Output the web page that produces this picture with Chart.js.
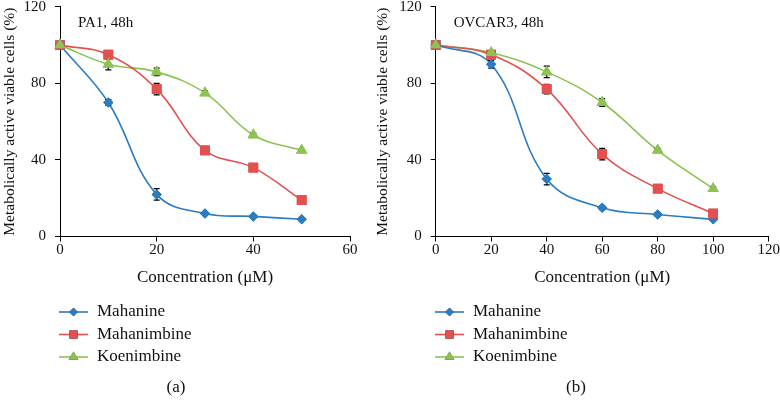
<!DOCTYPE html>
<html>
<head>
<meta charset="utf-8">
<script src="https://cdn.jsdelivr.net/npm/chart.js@4.4.1/dist/chart.umd.min.js"></script>
<style>
  html, body { margin: 0; padding: 0; background: #fff; overflow: hidden; }
  body { width: 780px; height: 412px; position: relative; }
  .panel { position: absolute; top: 0; height: 412px; }
  #panelA { left: 0; width: 370px; }
  #panelB { left: 370px; width: 412px; }
</style>
</head>
<body>
<div class="panel" id="panelA"><canvas id="chartA"></canvas></div>
<div class="panel" id="panelB"><canvas id="chartB"></canvas></div>
<script>
// ---- data ----
var seriesNames = ["Mahanine", "Mahanimbine", "Koenimbine"];

var pa1Conc = [0, 10, 20, 30, 40, 50];
var pa1Mahanine = [100, 70, 22, 12, 10.5, 9];
var pa1MahanineErr = [0, 1.5, 3, 1, 0.5, 0.5];
var pa1Mahanimbine = [100, 95, 77, 45, 36, 19];
var pa1MahanimbineErr = [0, 2, 3, 1, 1, 1];
var pa1Koenimbine = [100, 90, 86, 75, 53, 45];
var pa1KoenimbineErr = [0, 3, 2, 1, 1, 0.5];

var ovcarConc = [0, 20, 40, 60, 80, 100];
var ovcarMahanine = [100, 90, 30, 15, 11.5, 9];
var ovcarMahanineErr = [0, 2, 3, 1, 1, 0.5];
var ovcarMahanimbine = [100, 95, 77, 43, 25, 12];
var ovcarMahanimbineErr = [0, 1, 2.5, 3, 1, 1];
var ovcarKoenimbine = [100, 96, 86, 70, 45, 25];
var ovcarKoenimbineErr = [0, 1, 3, 2, 1, 1];

var yTicks = [0, 40, 80, 120];

var colours = ["#2b7cc0", "#e2514f", "#8cc352"];
var markers = ["rectRot", "rect", "triangle"];
var markerSizes = [5, 6.8, 6.5];

var serif = "'Liberation Serif', 'DejaVu Serif', serif";

function makeDatasets(xs, lists, errs) {
    return lists.map(function (vals, i) {
        return {
            label: seriesNames[i],
            data: vals.map(function (v, j) { return { x: xs[j], y: v }; }),
            errors: errs[i],
            borderColor: colours[i],
            backgroundColor: colours[i],
            borderWidth: 1.6,
            tension: 0.4,
            pointStyle: markers[i],
            pointRadius: markerSizes[i],
            pointBorderWidth: 0,
            pointBackgroundColor: colours[i],
            fill: false
        };
    });
}

// error bars, then markers again on top of them
var errorBars = {
    id: 'errorBars',
    afterDatasetsDraw: function (chart) {
        var ctx = chart.ctx;
        var xs = chart.scales.x, ys = chart.scales.y;
        ctx.save();
        ctx.strokeStyle = '#000';
        ctx.lineWidth = 1.3;
        chart.data.datasets.forEach(function (ds) {
            ds.data.forEach(function (p, j) {
                var e = ds.errors[j];
                if (!e) return;
                var x = xs.getPixelForValue(p.x);
                var top = ys.getPixelForValue(p.y + e);
                var bot = ys.getPixelForValue(p.y - e);
                ctx.beginPath();
                ctx.moveTo(x, top); ctx.lineTo(x, bot);
                ctx.moveTo(x - 3, top); ctx.lineTo(x + 3, top);
                ctx.moveTo(x - 3, bot); ctx.lineTo(x + 3, bot);
                ctx.stroke();
            });
        });
        chart.data.datasets.forEach(function (ds, i) {
            var meta = chart.getDatasetMeta(i);
            meta.data.forEach(function (pt) {
                Chart.helpers.drawPoint(ctx, {
                    pointStyle: ds.pointStyle, radius: ds.pointRadius, rotation: 0, borderWidth: 0
                }, pt.x, pt.y);
                ctx.fillStyle = ds.pointBackgroundColor;
                ctx.fill();
            });
        });
        ctx.restore();
    }
};

// panel note, legend and sub-caption
var extras = {
    id: 'extras',
    afterDraw: function (chart) {
        var o = chart.options.plugins.extras;
        var ctx = chart.ctx;
        var area = chart.chartArea;
        ctx.save();
        ctx.fillStyle = '#111';
        ctx.textBaseline = 'middle';
        ctx.textAlign = 'left';
        ctx.font = '15px ' + serif;
        ctx.fillText(o.note, area.left + 18, area.top + 16);

        ctx.font = '17px ' + serif;
        chart.data.datasets.forEach(function (ds, i) {
            var y = o.legendY + i * 22.5;
            ctx.strokeStyle = ds.borderColor;
            ctx.lineWidth = 1.6;
            ctx.beginPath();
            ctx.moveTo(o.legendX, y); ctx.lineTo(o.legendX + 29, y);
            ctx.stroke();
            Chart.helpers.drawPoint(ctx, {
                pointStyle: ds.pointStyle, radius: ds.pointRadius * 0.85, rotation: 0, borderWidth: 0
            }, o.legendX + 14.5, y);
            ctx.fillStyle = ds.pointBackgroundColor;
            ctx.fill();
            ctx.fillStyle = '#111';
            ctx.fillText(ds.label, o.legendX + 38, y);
        });

        ctx.textAlign = 'center';
        ctx.fillText(o.caption, o.captionX, 388);
        ctx.restore();
    }
};

function makeChart(id, xs, lists, errs, xMax, yAxisWidth, rightPad, titlePad, extraOpts) {
    var el = document.getElementById(id);
    var parent = el.parentNode;
    el.width = parent.clientWidth;
    el.height = 412;
    return new Chart(el.getContext('2d'), {
        type: 'line',
        data: { datasets: makeDatasets(xs, lists, errs) },
        options: {
            responsive: false,
            animation: false,
            layout: { padding: { left: 0, right: rightPad, top: 6, bottom: 124.4 } },
            scales: {
                x: {
                    type: 'linear',
                    min: 0, max: xMax,
                    ticks: { stepSize: 20, color: '#111', padding: 0, maxRotation: 0,
                             font: { family: serif, size: 15 } },
                    grid: { drawOnChartArea: false, drawTicks: true, tickLength: 5, color: '#000' },
                    border: { color: '#000', width: 1 },
                    title: { display: true, text: 'Concentration (\u03bcM)', color: '#111',
                             padding: 0, font: { family: serif, size: 17 } },
                    afterFit: function (s) { s.height = 51.1; s.paddingLeft = 0; s.paddingRight = 0; }
                },
                y: {
                    min: 0, max: 120,
                    afterBuildTicks: function (s) { s.ticks = yTicks.map(function (v) { return { value: v }; }); },
                    ticks: { color: '#111', padding: 9, font: { family: serif, size: 15 } },
                    grid: { drawOnChartArea: false, drawTicks: true, tickLength: 5, color: '#000' },
                    border: { color: '#000', width: 1 },
                    title: { display: true, text: 'Metabolically active viable cells (%)', color: '#111',
                             padding: { top: titlePad, bottom: 0 }, font: { family: serif, size: 15.5 } },
                    afterFit: function (s) { s.width = yAxisWidth; s.paddingTop = 0; s.paddingBottom = 0; }
                }
            },
            plugins: {
                legend: { display: false },
                tooltip: { enabled: false },
                extras: extraOpts
            }
        },
        plugins: [errorBars, extras]
    });
}

makeChart('chartA', pa1Conc,
    [pa1Mahanine, pa1Mahanimbine, pa1Koenimbine],
    [pa1MahanineErr, pa1MahanimbineErr, pa1KoenimbineErr],
    60, 60, 20, 0.5,
    { note: 'PA1, 48h', legendX: 59, legendY: 312, caption: '(a)', captionX: 176 });

makeChart('chartB', ovcarConc,
    [ovcarMahanine, ovcarMahanimbine, ovcarKoenimbine],
    [ovcarMahanineErr, ovcarMahanimbineErr, ovcarKoenimbineErr],
    120, 65.7, 13.3, 4,
    { note: 'OVCAR3, 48h', legendX: 65, legendY: 312, caption: '(b)', captionX: 206 });
</script>
</body>
</html>
